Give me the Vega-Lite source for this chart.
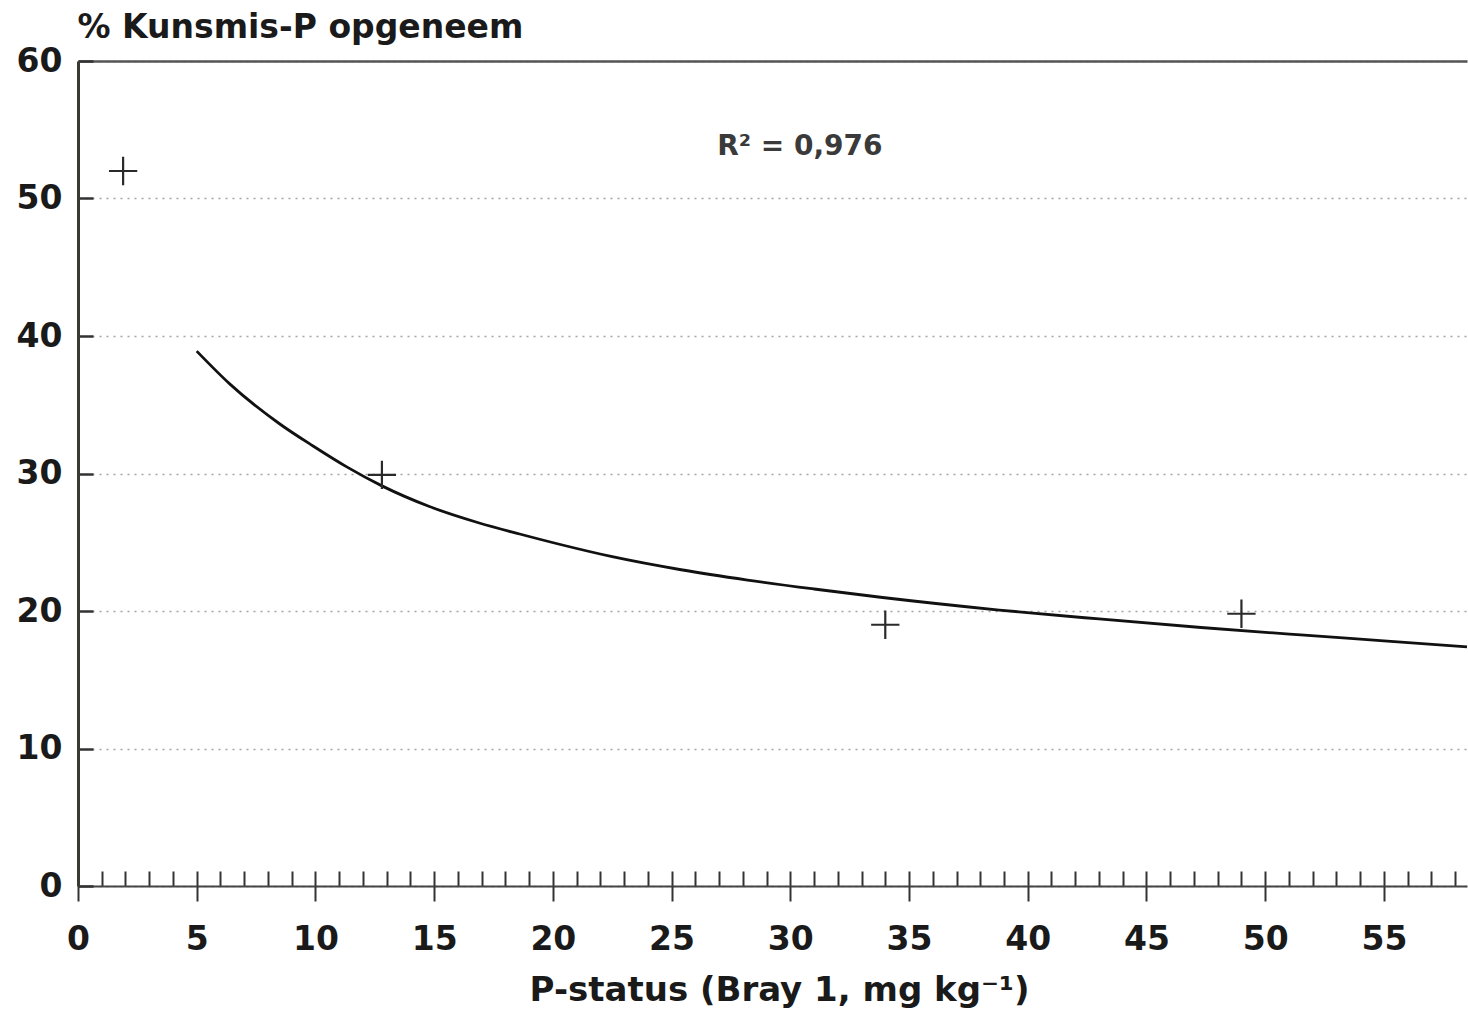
{
  "$schema": "https://vega.github.io/schema/vega-lite/v6.json",
  "autosize": {"type": "none"},
  "width": 1389,
  "height": 825,
  "padding": {"left": 78, "top": 61, "right": 1, "bottom": 125},
  "background": "white",
  "config": {
    "view": {"stroke": null},
    "font": "DejaVu Sans",
    "axis": {"labelFont": "DejaVu Sans", "titleFont": "DejaVu Sans", "labelColor": "#1a1a1a", "titleColor": "#1a1a1a"}
  },
  "datasets": {
    "curve": [
      {"x": 5.0, "y": 38.9},
      {"x": 6.4, "y": 36.5},
      {"x": 8.5, "y": 33.6},
      {"x": 9.9, "y": 32.0},
      {"x": 11.3, "y": 30.5},
      {"x": 12.8, "y": 29.1},
      {"x": 14.8, "y": 27.6},
      {"x": 16.9, "y": 26.4},
      {"x": 18.6, "y": 25.6},
      {"x": 20.4, "y": 24.8},
      {"x": 22.5, "y": 23.95},
      {"x": 25.4, "y": 23.0},
      {"x": 28.2, "y": 22.25},
      {"x": 31.0, "y": 21.6},
      {"x": 33.8, "y": 21.0},
      {"x": 38.8, "y": 20.07},
      {"x": 43.0, "y": 19.42},
      {"x": 47.3, "y": 18.8},
      {"x": 51.5, "y": 18.26},
      {"x": 55.0, "y": 17.83},
      {"x": 58.5, "y": 17.39}
    ],
    "points": [
      {"x": 1.9, "y": 52.0},
      {"x": 12.8, "y": 29.9},
      {"x": 34.0, "y": 19.0},
      {"x": 49.0, "y": 19.8}
    ],
    "note": [
      {"x": 30.4, "y": 53.2, "label": "R² = 0,976"}
    ]
  },
  "resolve": {"axis": {"x": "independent", "y": "independent"}},
  "layer": [
    {
      "data": {"name": "curve"},
      "mark": {"type": "line", "color": "#111111", "strokeWidth": 2.8, "interpolate": "monotone"},
      "encoding": {
        "x": {
          "field": "x", "type": "quantitative",
          "scale": {"domain": [0, 58.5], "nice": false, "zero": false},
          "axis": {
            "orient": "bottom",
            "values": [0,1,2,3,4,5,6,7,8,9,10,11,12,13,14,15,16,17,18,19,20,21,22,23,24,25,26,27,28,29,30,31,32,33,34,35,36,37,38,39,40,41,42,43,44,45,46,47,48,49,50,51,52,53,54,55,56,57,58],
            "tickSize": -15, "tickWidth": 2, "tickColor": "#333333",
            "labels": false, "title": null, "grid": false,
            "domain": true, "domainColor": "#444444", "domainWidth": 2
          }
        },
        "y": {
          "field": "y", "type": "quantitative",
          "scale": {"domain": [0, 60], "nice": false},
          "axis": {
            "orient": "left",
            "values": [0, 10, 20, 30, 40, 50, 60],
            "tickSize": -15, "tickWidth": 2.5, "tickColor": "#333333",
            "labelFontSize": 33, "labelFontWeight": "bold", "labelPadding": 31,
            "domain": true, "domainColor": "#3a3a32", "domainWidth": 3,
            "grid": true, "gridColor": "#9a9a9a", "gridDash": [2, 5], "gridWidth": 1.5, "gridOpacity": 0.9,
            "title": "% Kunsmis-P opgeneem",
            "titleAngle": 0, "titleAlign": "left", "titleBaseline": "alphabetic",
            "titleX": -1, "titleY": -24,
            "titleFontSize": 33, "titleFontWeight": "bold"
          }
        }
      }
    },
    {
      "data": {"name": "points"},
      "mark": {"type": "point", "shape": "M-1,0H1M0,-1V1", "size": 800, "filled": false, "stroke": "#2a2a2a", "strokeWidth": 2.2, "opacity": 1},
      "encoding": {
        "x": {
          "field": "x", "type": "quantitative",
          "scale": {"domain": [0, 58.5], "nice": false, "zero": false},
          "axis": {
            "orient": "bottom",
            "values": [0, 5, 10, 15, 20, 25, 30, 35, 40, 45, 50, 55],
            "tickSize": 15, "tickWidth": 2, "tickColor": "#333333",
            "labelFontSize": 33, "labelFontWeight": "bold", "labelPadding": 22,
            "labelFlush": false,
            "domain": false, "grid": false,
            "title": "P-status (Bray 1, mg kg⁻¹)",
            "titleFontSize": 34, "titleFontWeight": "bold",
            "titleBaseline": "alphabetic", "titleY": 114, "titleX": 701
          }
        },
        "y": {
          "field": "y", "type": "quantitative",
          "scale": {"domain": [0, 60], "nice": false},
          "axis": null
        }
      }
    },
    {
      "data": {"name": "note"},
      "mark": {"type": "text", "font": "DejaVu Sans", "fontSize": 28, "fontWeight": "bold", "color": "#3a3a3a", "align": "center", "baseline": "alphabetic"},
      "encoding": {
        "x": {
          "field": "x", "type": "quantitative",
          "scale": {"domain": [0, 58.5], "nice": false, "zero": false},
          "axis": {
            "orient": "top", "ticks": false, "labels": false, "title": null, "grid": false,
            "domain": true, "domainColor": "#555555", "domainWidth": 2.5
          }
        },
        "y": {
          "field": "y", "type": "quantitative",
          "scale": {"domain": [0, 60], "nice": false},
          "axis": null
        },
        "text": {"field": "label"}
      }
    }
  ]
}
